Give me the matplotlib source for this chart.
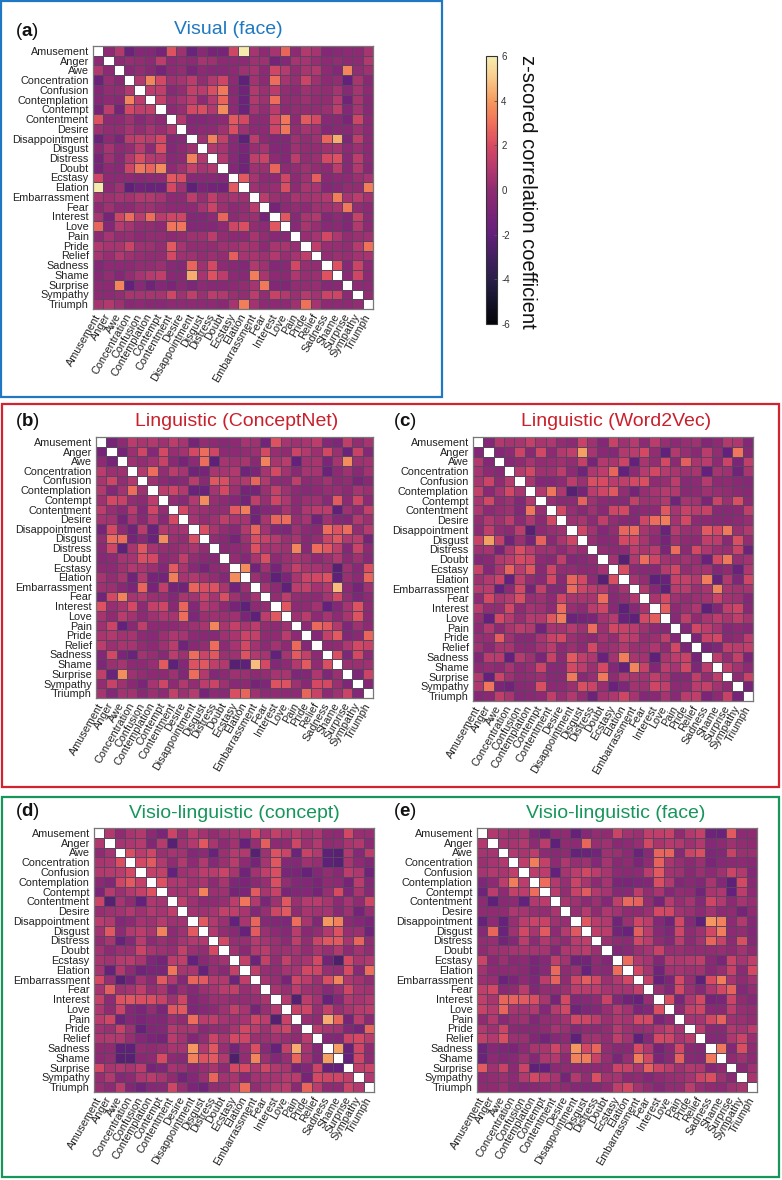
import numpy as np
import matplotlib
matplotlib.use('Agg')
import matplotlib.pyplot as plt
from matplotlib.colors import LinearSegmentedColormap
from matplotlib.patches import Rectangle

plt.rcParams['font.family'] = ['Liberation Sans', 'DejaVu Sans']
plt.rcParams['mathtext.fontset'] = 'custom'
plt.rcParams['mathtext.rm'] = 'Liberation Sans'
plt.rcParams['mathtext.bf'] = 'Liberation Sans:bold'

emotions = ['Amusement', 'Anger', 'Awe', 'Concentration', 'Confusion', 'Contemplation', 'Contempt',
            'Contentment', 'Desire', 'Disappointment', 'Disgust', 'Distress', 'Doubt', 'Ecstasy',
            'Elation', 'Embarrassment', 'Fear', 'Interest', 'Love', 'Pain', 'Pride', 'Relief',
            'Sadness', 'Shame', 'Surprise', 'Sympathy', 'Triumph']

# colours of the colorbar in the picture, from -6 up to 6
bar_colors = ['#050308', '#14122a', '#2a1f4a', '#43205f', '#62207c', '#7a2578', '#8f2b72',
              '#b53a6e', '#d84a62', '#f0705a', '#f59a5e', '#f9c98a', '#f5eeb0']

# upper triangles, the matrices are symmetric
visual_face = [
    [-1, 0, -2.5, -1.5, -1.5, -2, 1.3, -0.5, -2.5, -1.2, -2, -2, 0.8, 5, -0.3, -1, -0.3, 1.8, -1, 0, -0.3, -1.5, -1.3, -1, -1, -0.3],
    [-1, -0.7, -0.8, -1, 0.3, -1, -0.8, -1, -0.3, -0.5, -1, -1, -1, -0.5, -0.5, -2, -1.5, -0.3, -0.3, -0.7, -1, -0.8, -1, -1, 0],
    [-1.2, -0.8, -1.2, -2, -1, -0.8, -1.8, -1, -1.3, -1.3, -1, -0.5, -0.3, -1, 0.8, 0.1, -0.8, -0.2, 0, -1, -1.5, 2.6, -0.8, -0.5],
    [0, 2.6, 1, -0.5, -0.3, 0.3, -0.8, 0, 0.8, -1, -3, -0.4, -1, 2, -0.3, -0.7, 0.7, -0.5, -1, -0.8, -2.8, -0.2, -1.2],
    [0.3, 0.4, -1.3, -0.8, 0.5, 0.2, 1.2, 2.3, -1.2, -2.3, 0, -0.6, 0.2, -0.8, -1, -0.5, -0.7, -0.8, -0.3, -1.3, -0.3, -1],
    [0.5, -0.7, -0.3, 0.3, -1, 0.1, 1.8, -1, -2.5, 0, -0.5, 2, -0.8, -0.8, -0.5, -0.8, -0.8, 0.1, -2.3, -0.2, -1.2],
    [-1, -0.7, 1, 1.2, 0, 2.8, -1, -2.5, -0.3, -0.8, 0.2, -1, -0.8, -0.8, -0.8, -0.6, 0.4, -1.5, -0.3, -1.3],
    [0, -1.5, -1.5, -1.3, -1, 1.5, 1, -1, -1, 0.8, 2.2, -1, 1.5, 1, -1.3, -1.2, -1.8, 0.8, -1],
    [-1.3, -1, -1, -0.5, 1.2, -0.5, -1, -1, 0.8, 2.2, -0.8, -0.3, -0.5, -1.5, -1.2, -1.2, -0.5, -1],
    [-0.5, 2.5, 0.5, -1.3, -3, 0.3, -1, -1.5, -1.5, -0.5, -0.8, -0.5, 1.8, 3.5, -1.7, 0.4, -1],
    [0, -0.3, -1.3, -1.8, -0.7, -0.3, -1.5, -1.5, -0.5, -0.8, -0.8, -0.5, -0.3, -1, -0.6, -1],
    [0, -1.3, -2.2, 0.4, 0.7, -1, -1.5, 0.3, -0.8, -0.6, 1, 1.3, -1.3, 0.3, -1],
    [-1.5, -2.3, -0.5, -0.6, 1.8, -1, -0.8, -0.5, -0.8, -1, 0.3, -1.3, 0, -1.2],
    [1.5, -0.3, -1, -1, 0.8, -1, -0.5, 1.6, -1.2, -1, -1, -0.6, -0.3],
    [-0.5, -0.8, -0.7, 1.2, -1, -0.2, -0.3, -1.5, -1.3, -0.8, -0.8, 2.4],
    [0.2, -0.6, -0.8, -0.2, -0.4, -0.2, 0, 2.4, -0.3, 0.3, -0.4],
    [-2, -1, -0.8, -1, -0.5, -0.5, -0.2, 2.3, -0.8, -1],
    [1.4, -1.3, -0.2, 0, -1.5, -1, -1.6, 0.6, -1],
    [-1.3, -0.2, -0.7, -1.3, -1.1, -1.6, 0, -1],
    [-0.7, -0.3, 0.9, -0.1, -0.8, -0.6, -0.5],
    [0.4, -0.7, -0.7, -0.8, 0.1, 2.1],
    [-0.8, -0.6, -0.7, -0.4, -0.3],
    [1.3, -1.4, 0.7, -1],
    [-1.2, 0.8, -1],
    [-1, -1],
    [-0.8],
]

conceptnet = [
    [-2, -1, 0.2, -0.2, 0, -0.5, 0.3, -0.3, -2, -0.8, -1, -1.3, -1, -0.3, -0.5, -2.2, 1.3, -0.3, -0.5, -0.2, 0.3, -1.5, -1.7, 0.4, -0.8, -0.3],
    [-2, -0.6, 0.8, -1.5, 1, -0.7, -0.4, 1, 2, 0.8, -1, -1, -0.8, -0.6, 1, -0.7, -0.9, 0.7, 0, -0.6, 0.9, -0.6, -2.5, 0.6, -1.5],
    [-0.5, -0.8, -0.4, 0.6, -1.2, -2, -1, 2, -3, -0.3, -0.5, -0.2, -1.2, 2.5, -0.2, 0.2, -2.8, -0.4, -0.2, -1.8, -0.3, 2.8, -0.5, -0.4],
    [0, 2, -0.8, 0.2, -0.3, -2.3, -2, -0.2, -0.3, 0, -2.3, -1.8, -0.3, 1, -0.4, -1.2, -0.3, -0.3, -2.5, -1, -0.5, -1.2, -0.4],
    [-0.5, -1, -1.5, -1.2, 0.2, -1.2, 1.4, 1.2, -0.2, 0, 1.8, 0, -1, -1, 0.4, -1, -0.8, -0.4, -1, -0.8, -1.8, -1.2],
    [0.3, 0.8, 0, -2.5, -2.5, -0.3, 1, -0.6, -2, -2, -0.6, 0.5, -0.5, -1, -1.3, -1, -0.7, -0.7, -1, -0.3, -0.6],
    [-0.8, -1.3, 0, 2.8, -0.7, -1, -1.5, -2.2, 0.4, -0.7, 0.8, -0.1, -1, -0.6, -0.5, -1.3, 1.5, -1, 0.8, -1],
    [1, -0.4, -0.6, -0.8, -0.8, 1.5, 2.4, -2, -1.5, -1.2, -0.3, -1, -0.1, 0.2, 0.3, -3, -0.5, -1, 0.5],
    [-0.3, -0.8, -0.5, 0.4, -0.2, -0.3, -2.3, -0.2, 1.8, 2, -0.7, -0.3, -2.3, -0.5, -1.5, -1.6, 0, -0.6],
    [1.2, -0.2, -0.8, -1.3, 0, 1.8, -0.4, -1.5, -1.7, -0.5, -1, -1.2, 2, 1.3, 2, -0.8, 0.1],
    [-0.8, -1.2, -2, -0.5, 1.2, 0.6, 0.1, -0.6, -0.2, -1.2, -0.8, 0.7, 1.4, 0, 0.3, -2],
    [-1.2, -1, -0.8, 1.3, -0.3, -0.3, -0.5, 2.6, -1.3, 2, 1.4, 0.4, -1.5, 0.7, -1],
    [-0.8, -1.5, -0.2, 1.2, -1, -0.6, -0.2, -0.5, -1, -0.6, 0, -1.1, -0.5, -1.3],
    [2.8, -2.3, -0.5, -2, -0.5, 0.5, -0.2, -0.3, -0.5, -3.2, -0.5, -1.3, 1.2],
    [-0.6, -1.2, -3, -1.8, -0.2, 0.7, 0.9, 1.3, -3, -0.6, -1, 1.8],
    [-0.3, -1, -3, 0.3, 0.5, -0.4, 0, 3.8, -1, -2, -0.5],
    [-0.8, 0.3, -0.8, -0.9, -1, -0.3, 1, -0.8, -1.7, -1],
    [1.4, -1, -0.9, -0.4, -2.8, -1.5, -0.3, 1.3, -0.9],
    [-0.5, 0.2, -1, -0.3, -1, -0.2, 1.3, -1],
    [-1, 1.9, 1.5, 0, -1.7, -0.5, -1],
    [-1.5, 0.5, 1.5, -1.6, -1.2, 1.8],
    [-1, -0.9, -0.1, 1, 0.6],
    [1.2, -1.7, 1, -1],
    [-0.6, -0.6, -0.5],
    [-1.7, 0.7],
    [-1.5],
]

word2vec = [
    [-1.5, 0, -0.3, -0.2, 0.5, -0.2, -0.1, -0.8, -1, 0.6, -0.5, -1.5, 0.6, -0.5, 0.1, -1, 0.2, -0.7, -1, -0.7, -0.5, -1.6, -1, 0, -0.1, -1.5],
    [-1.5, -1, 0.7, -1.2, 0.9, -1, 0, 0.4, 3.2, -0.3, -1.2, -1.5, 0, 0.2, 1, -0.8, -2.8, 0, -0.7, -1.2, 0.2, -0.8, -2.8, 2.2, -1.2],
    [-1.3, -0.9, -0.3, -0.8, -0.7, -0.5, -0.8, 0.5, -2, 0, -0.2, 0.7, -2.8, -0.2, -0.8, 1, -1.1, 1.6, -0.2, 0.2, -1, 0.7, -1.8, 0.4],
    [0.1, 0.9, -0.5, -0.5, 0.3, -1, -2.3, -0.1, 0.3, 1.8, -2.8, -1, 0.1, 0.9, 0.1, -0.2, -0.5, -0.2, -2.8, -0.3, -0.5, -2.3, -0.2],
    [-0.2, -1.5, -1.5, -1, 0.3, -0.6, 1.2, 1.1, 0.2, 0.4, 1, 1.2, -0.9, -0.7, 0.3, -1.3, -1, 0.1, -1, -0.9, -1.2, -1.4],
    [0, 2.2, -0.1, -3.2, -2, 0.2, 0.8, 1.4, -0.8, -2, -0.7, -0.3, 0.1, 0, -1.2, -1, -0.5, -0.7, -0.8, -1.1, -1.2],
    [-0.7, -1.1, -1, 1.7, -0.5, -1, -1.2, -1.3, 0.5, -0.5, -0.5, 0, -2.3, -0.3, -0.4, -1.8, 0.7, -0.6, 1.2, -1],
    [0.9, -0.7, -1.2, -0.5, -1.2, 0.8, 1, -1.4, -1, -1, 1.4, -0.3, 0.6, 0.2, 0.6, -1.3, -1.3, -1.1, 0.4],
    [-0.5, -0.2, -1, 0.4, -0.8, -1.2, -1.4, 0.8, 2, 2.4, -0.4, 1, -1, -1.1, -1.3, -1.2, -1, -0.7],
    [0.8, -0.4, -1.5, -0.8, 1.8, 2, -0.2, -0.7, -2.5, 0.1, -0.6, -0.6, 1.5, 1, 2.3, -0.6, 0],
    [-0.7, -1.3, -1.1, 1, 0.8, -0.2, -1, -2, -0.5, -0.9, -1, 0.4, 0.3, -1.2, 1.2, -0.8],
    [-0.8, -1, -1, 0.3, -0.2, 0.2, -1.8, 2, -1.1, 1, -0.1, -0.6, -0.7, 0.7, -2.4],
    [-0.4, -3.2, 0, 2, 0.8, -0.4, -0.6, -0.4, -0.7, -2.6, 1, 2.3, -0.7, -0.4],
    [1.2, -1, -1.3, -1.2, 0.1, 0.9, -0.8, -0.5, -0.4, -1.5, -0.9, -2.6, -0.1],
    [-0.3, -0.8, -3, -2.6, 0.6, 0.5, 0, 2.4, -2.7, 0, -1.7, 0.8],
    [0, -1.4, -3, 0.2, 0.2, -0.6, -0.2, 2.6, -0.2, -0.4, -0.3],
    [-0.2, 1, -0.5, -0.8, -0.6, -0.4, 0.6, -0.4, -0.5, -1.5],
    [1.6, -1, -0.6, -0.1, -3, -1.6, 0.4, 0.8, -1.2],
    [-1.3, 0.4, -0.9, -0.2, 0.3, -0.2, 0.4, -0.3],
    [-1.5, 0.9, 0.3, -0.3, -1.4, -1, -1.3],
    [-1.8, 0.6, 0.9, -1.2, -0.9, 0.2],
    [-2, -1.7, 0.4, 0.2, 0.4],
    [0.3, -0.8, 0.5, -1.8],
    [0.4, -0.4, -1],
    [-0.9, 0.6],
    [-2],
]

visio_concept = [
    [0, -0.9, -0.2, 0, -1.1, -1.8, 0.7, -0.7, 0.2, -0.4, -0.8, -0.4, -0.2, -0.3, 1, -0.3, 0.5, -0.1, 0.2, -0.4, -0.1, -0.9, -1, 0.9, -0.7, -0.7],
    [-0.3, -0.1, 0.1, -1.6, 0.1, -3.2, -0.5, 0, 1.4, -0.2, -1, -0.4, -2.7, -0.7, 1.6, -1, -0.9, 0.8, -0.6, 0, -0.9, -0.8, -0.2, 0, -1],
    [1.2, 0.2, 0.8, -0.6, -0.3, -0.4, -1.5, -1, -2.6, -0.6, 0.1, 0, -3.2, -0.5, 1.3, 0.7, -2.4, 0.6, 0, -3, -3.2, 0, -1.4, 0.3],
    [1, 1.5, 0, -0.9, 0, -1, 0, -1.4, -0.6, 0.2, -1, -2, -0.3, 1.4, -1.5, -1.5, -0.5, -0.7, -3, -3.2, -0.2, -1, -1.6],
    [0.5, 0.5, -2.8, -0.5, -0.3, 0.3, 0.2, 0.7, -0.2, -2.3, -0.4, 0.4, 1.2, -1.9, -1.8, -2.7, -1.5, -0.8, -1.2, 0.3, -0.1, -2.3],
    [1.3, -0.1, 0, -0.5, -0.2, -1, -0.2, -1.7, -1.8, -1.1, -0.7, 1.2, -0.8, -1.5, -1.6, -1.8, -0.9, -1, -2, 0.2, -1.4],
    [-0.3, -0.3, 0.1, 2.5, -0.6, -0.5, -2, -1.9, 1.5, -0.2, 0.6, -1.8, -1.6, -1.5, -2, -0.7, 1.1, -1.7, -0.2, -1.3],
    [0.4, -0.5, -1, -0.9, -0.7, 0.3, 2.2, 0, -1.8, -0.5, 1.4, -0.6, 0.1, 0.2, -0.2, -1, -0.3, -0.9, 0.8],
    [-0.4, -0.5, -0.3, 0.5, 0.4, -0.2, -1.5, -0.7, 0.8, 1.5, -0.9, -0.2, -0.4, -0.3, -1.3, -0.5, -2.2, -0.7],
    [1.5, 0, -0.6, -2.8, -0.2, 1.8, -1.4, -1.6, -1.7, 2, -0.2, -1.6, 3, 2.5, -1.1, -1.5, -1.8],
    [0, -0.8, -1.2, -2.7, 1.5, -0.6, -1, -1.4, 0.2, -1.2, -0.8, 0, 1.3, -0.7, -0.6, -2.3],
    [1, -0.7, -0.7, 0.1, -0.3, -0.6, -1, 0.4, -0.8, 0.7, 1.4, 1.5, -0.2, 1.8, -0.8],
    [-0.4, -1.2, 0, 0.2, -0.6, -0.5, -0.3, -0.8, -0.2, -0.7, 0, -1, -0.4, -0.8],
    [0.5, -2.4, 0.5, -0.8, 0.5, -0.5, -0.2, 1, -2.2, -3.5, 1, -0.2, 0],
    [0.4, -0.7, -0.8, -0.3, -0.3, 0.9, 0.8, -0.7, -0.8, 1.1, -1.3, 2],
    [-0.3, -0.7, -2, 0.8, 0.2, -0.6, 1.2, 2.6, -0.1, -0.4, -0.8],
    [-0.2, -0.7, 0.3, -0.5, -0.6, -1.3, -0.6, 0.8, -0.3, -0.4],
    [0.1, -3.3, 0.3, -0.4, -2.7, -1.5, 0, -0.3, 0],
    [0.6, 0.8, -0.7, 0.5, -0.7, -0.2, 0.1, 0.3],
    [-0.7, -0.9, 3.5, 1.8, -2, 0.2, -1.1],
    [0.2, -0.3, -0.4, -1.6, -2, 1.8],
    [-1.5, -1.6, 0.7, 1, 0.2],
    [3.2, -2.7, 0.8, -0.9],
    [-2.8, 0.8, -0.9],
    [0.4, 0.7],
    [0],
]

visio_face = [
    [0, -0.3, -0.6, -0.3, -1.7, -2.4, -1, -0.9, -2.7, -1.4, -0.8, -0.9, 0.7, -0.4, -0.6, 0.4, 0.4, 0.6, -0.9, 0, 0.5, -2.4, -2.5, 1.5, -1, -0.9],
    [-0.3, -0.3, 0, -1, 0.2, -3, -0.9, -1, 1.8, -0.7, -0.5, -1.2, -1, -0.7, 0.9, -0.2, 0.1, 0, -0.5, 0, -1.4, -1, -0.5, -0.8, -0.9],
    [0, -0.2, 0.3, -1, -1.2, -0.9, -2.7, -2.5, -2.2, -0.5, -0.6, -1, -2.5, -1.2, 1.8, 1.8, -1.3, 0.7, 1.2, -1.7, -1.5, 0.6, -0.6, -0.6],
    [0.4, 2.4, 0.5, -1, -0.1, -0.7, -0.5, -1.5, -0.3, -1.2, -0.9, -1.8, -0.9, 1.7, -0.2, -0.7, -1.1, -0.6, -1.8, -1.3, -1.1, -1, -1.2],
    [0.3, 0.3, -2.8, -0.3, 0.3, 0.9, 0.3, -0.2, -1, -1.1, -1, 0.2, 1.5, -0.4, -0.5, -1.2, -0.6, -1, -0.5, 0.7, 0, -1.5],
    [2, 0, -0.7, 0.7, -0.2, -1, -0.3, -1.8, -1.9, -1.7, -1.6, 1.2, 0, -1.6, -1.2, -1.6, -0.2, -1.5, -3, 1, -1.2],
    [0.2, -0.8, 0.6, 1.5, 0, -0.3, -1.4, -1.3, 0.3, -0.8, -0.2, -1.5, -0.8, -0.9, -2.2, -0.2, -0.1, -2.8, 0.3, -1],
    [-0.2, -0.5, -1, -0.6, -1.5, 0.4, 1.9, 1.7, -0.8, -2, 0.1, -0.7, -0.3, -1.4, 0.8, 0, -1.1, -0.3, -0.7],
    [-0.7, 0.1, -0.9, -0.1, -0.4, -0.9, -0.9, -0.6, 1, 0.9, -0.4, -0.6, -1, -0.4, -1, -0.9, -2, -0.9],
    [1.4, 0.2, 0, -2.3, -0.6, 0.8, 0.3, -1.5, -2.3, 0.9, -1.4, -3, 3, 2.5, -1, 0, -1.4],
    [0.4, 0.3, -2.2, -2.6, 1.6, 0.2, -1.3, -1.7, 0.8, -0.9, -0.5, 0.9, 2.4, -1, -0.8, -1.5],
    [-0.6, -0.9, -1, 0.9, 0.3, -0.9, -1.5, 0.3, -1, -0.4, 1.8, 0.6, -1, 1.2, -1.4],
    [-1.6, -1.3, -0.6, -0.3, 0.6, -0.7, -0.6, -0.8, -0.8, -0.8, -0.7, -0.9, -0.4, -0.9],
    [2, 0, -0.3, -1.6, 0.1, -0.1, 0.1, 0.4, -1.2, -1.9, 0.7, -0.3, 0.4],
    [0.9, -0.3, -2.3, -0.4, -0.3, -0.5, -0.4, -1.2, -0.7, 0.6, -1.1, 1],
    [0.5, -2.7, -1.8, 1, -0.7, -3, 1.1, 2.4, -0.3, -0.9, -0.4],
    [-0.7, -1.6, 1, -0.6, -1.4, -0.1, 0.9, 1.7, -1.5, -0.8],
    [1.2, -1.9, -0.1, 1, -2, -1.8, 0.7, -0.9, -1.4],
    [-1, 0.5, 0.8, -1.2, -1.2, 0.3, -0.7, -0.8],
    [-0.3, -0.3, 0.9, 1.7, -0.5, -0.6, -0.8],
    [0.2, -1.2, -1.2, 0, -0.3, 0.3],
    [-1.4, -1.4, -0.1, 0.7, -0.7],
    [2.3, -1.5, 1.2, -0.9],
    [-0.9, -0.5, -1],
    [-1.2, -0.5],
    [-0.2],
]

W, H = 782, 1180
# the values above were first judged a bit low against the bar, this puts them back on it
READ_OFFSET = 0.9

cmap = LinearSegmentedColormap.from_list('bar', bar_colors, N=256)
cmap.set_bad('white')

fig = plt.figure(figsize=(W / 100, H / 100), dpi=100)


# pixel box from the top left corner -> figure axes
def add_axes_px(x0, y0, x1, y1):
    return fig.add_axes([x0 / W, 1 - y1 / H, (x1 - x0) / W, (y1 - y0) / H])


def to_matrix(upper):
    m = np.full((27, 27), np.nan)
    for i, row in enumerate(upper):
        m[i, i + 1:] = row
        m[i + 1:, i] = row
    return m + READ_OFFSET


def draw_panel(upper, box, title, title_x, title_y, letter, letter_x, letter_y, color):
    ax = add_axes_px(*box)
    mesh = ax.pcolormesh(to_matrix(upper), cmap=cmap, vmin=-6, vmax=6, edgecolors='#5a4460', linewidth=0.45)
    ax.set_ylim(27, 0)
    ax.set_xticks(np.arange(27) + 0.5)
    ax.set_yticks(np.arange(27) + 0.5)
    ax.set_xticklabels(emotions, rotation=60, ha='right', va='center', rotation_mode='anchor', fontsize=7.8, color='#222222')
    ax.set_yticklabels(emotions, fontsize=7.8, color='#222222')
    ax.tick_params(axis='x', length=0, pad=4)
    ax.tick_params(axis='y', length=0, pad=3)
    for s in ax.spines.values():
        s.set_color('#777777')
        s.set_linewidth(0.9)
    fig.text(title_x / W, 1 - title_y / H, title, color=color, fontsize=14, ha='center', va='center')
    fig.text(letter_x / W, 1 - letter_y / H, r'($\mathbf{%s}$)' % letter, fontsize=13.5, ha='left', va='center', color='#111111')
    return mesh


blue = '#1f78c1'
red = '#d2232f'
green = '#16965a'

# coloured frames
for (x0, y0, x1, y1), c in [((1, 1, 442, 397), blue), ((2, 404, 779, 787), red), ((2, 797, 779, 1177), green)]:
    fig.add_artist(Rectangle((x0 / W, 1 - y1 / H), (x1 - x0) / W, (y1 - y0) / H, transform=fig.transFigure,
                             fill=False, edgecolor=c, linewidth=1.6))

mesh = draw_panel(visual_face, (93, 46, 373, 309), 'Visual (face)', 228, 30, 'a', 15, 32, '#1f78c1')
draw_panel(conceptnet, (96, 437, 373, 698), 'Linguistic (ConceptNet)', 237, 422, 'b', 15, 421, '#c9202c')
draw_panel(word2vec, (473, 437, 753, 701), 'Linguistic (Word2Vec)', 616, 422, 'c', 393, 421, '#c9202c')
draw_panel(visio_concept, (94, 828, 374, 1092), 'Visio-linguistic (concept)', 234, 813, 'd', 15, 811, green)
draw_panel(visio_face, (477, 828, 757, 1092), 'Visio-linguistic (face)', 616, 813, 'e', 393, 811, green)

# colorbar
cax = add_axes_px(486, 56, 497, 324)
cb = fig.colorbar(mesh, cax=cax, ticks=[-6, -4, -2, 0, 2, 4, 6])
cb.ax.set_yticklabels(['-6', '-4', '-2', '0', '2', '4', '6'], fontsize=7, color='#333333')
cb.ax.tick_params(length=2, width=0.6, direction='in', pad=3, color='#555555')
cb.outline.set_edgecolor('#333333')
cb.outline.set_linewidth(0.8)
fig.text(527 / W, 1 - 192 / H, 'z-scored correlation coefficient', rotation=270, fontsize=14.5, ha='center', va='center', color='#111111')

fig.savefig('out.png', dpi=100)
